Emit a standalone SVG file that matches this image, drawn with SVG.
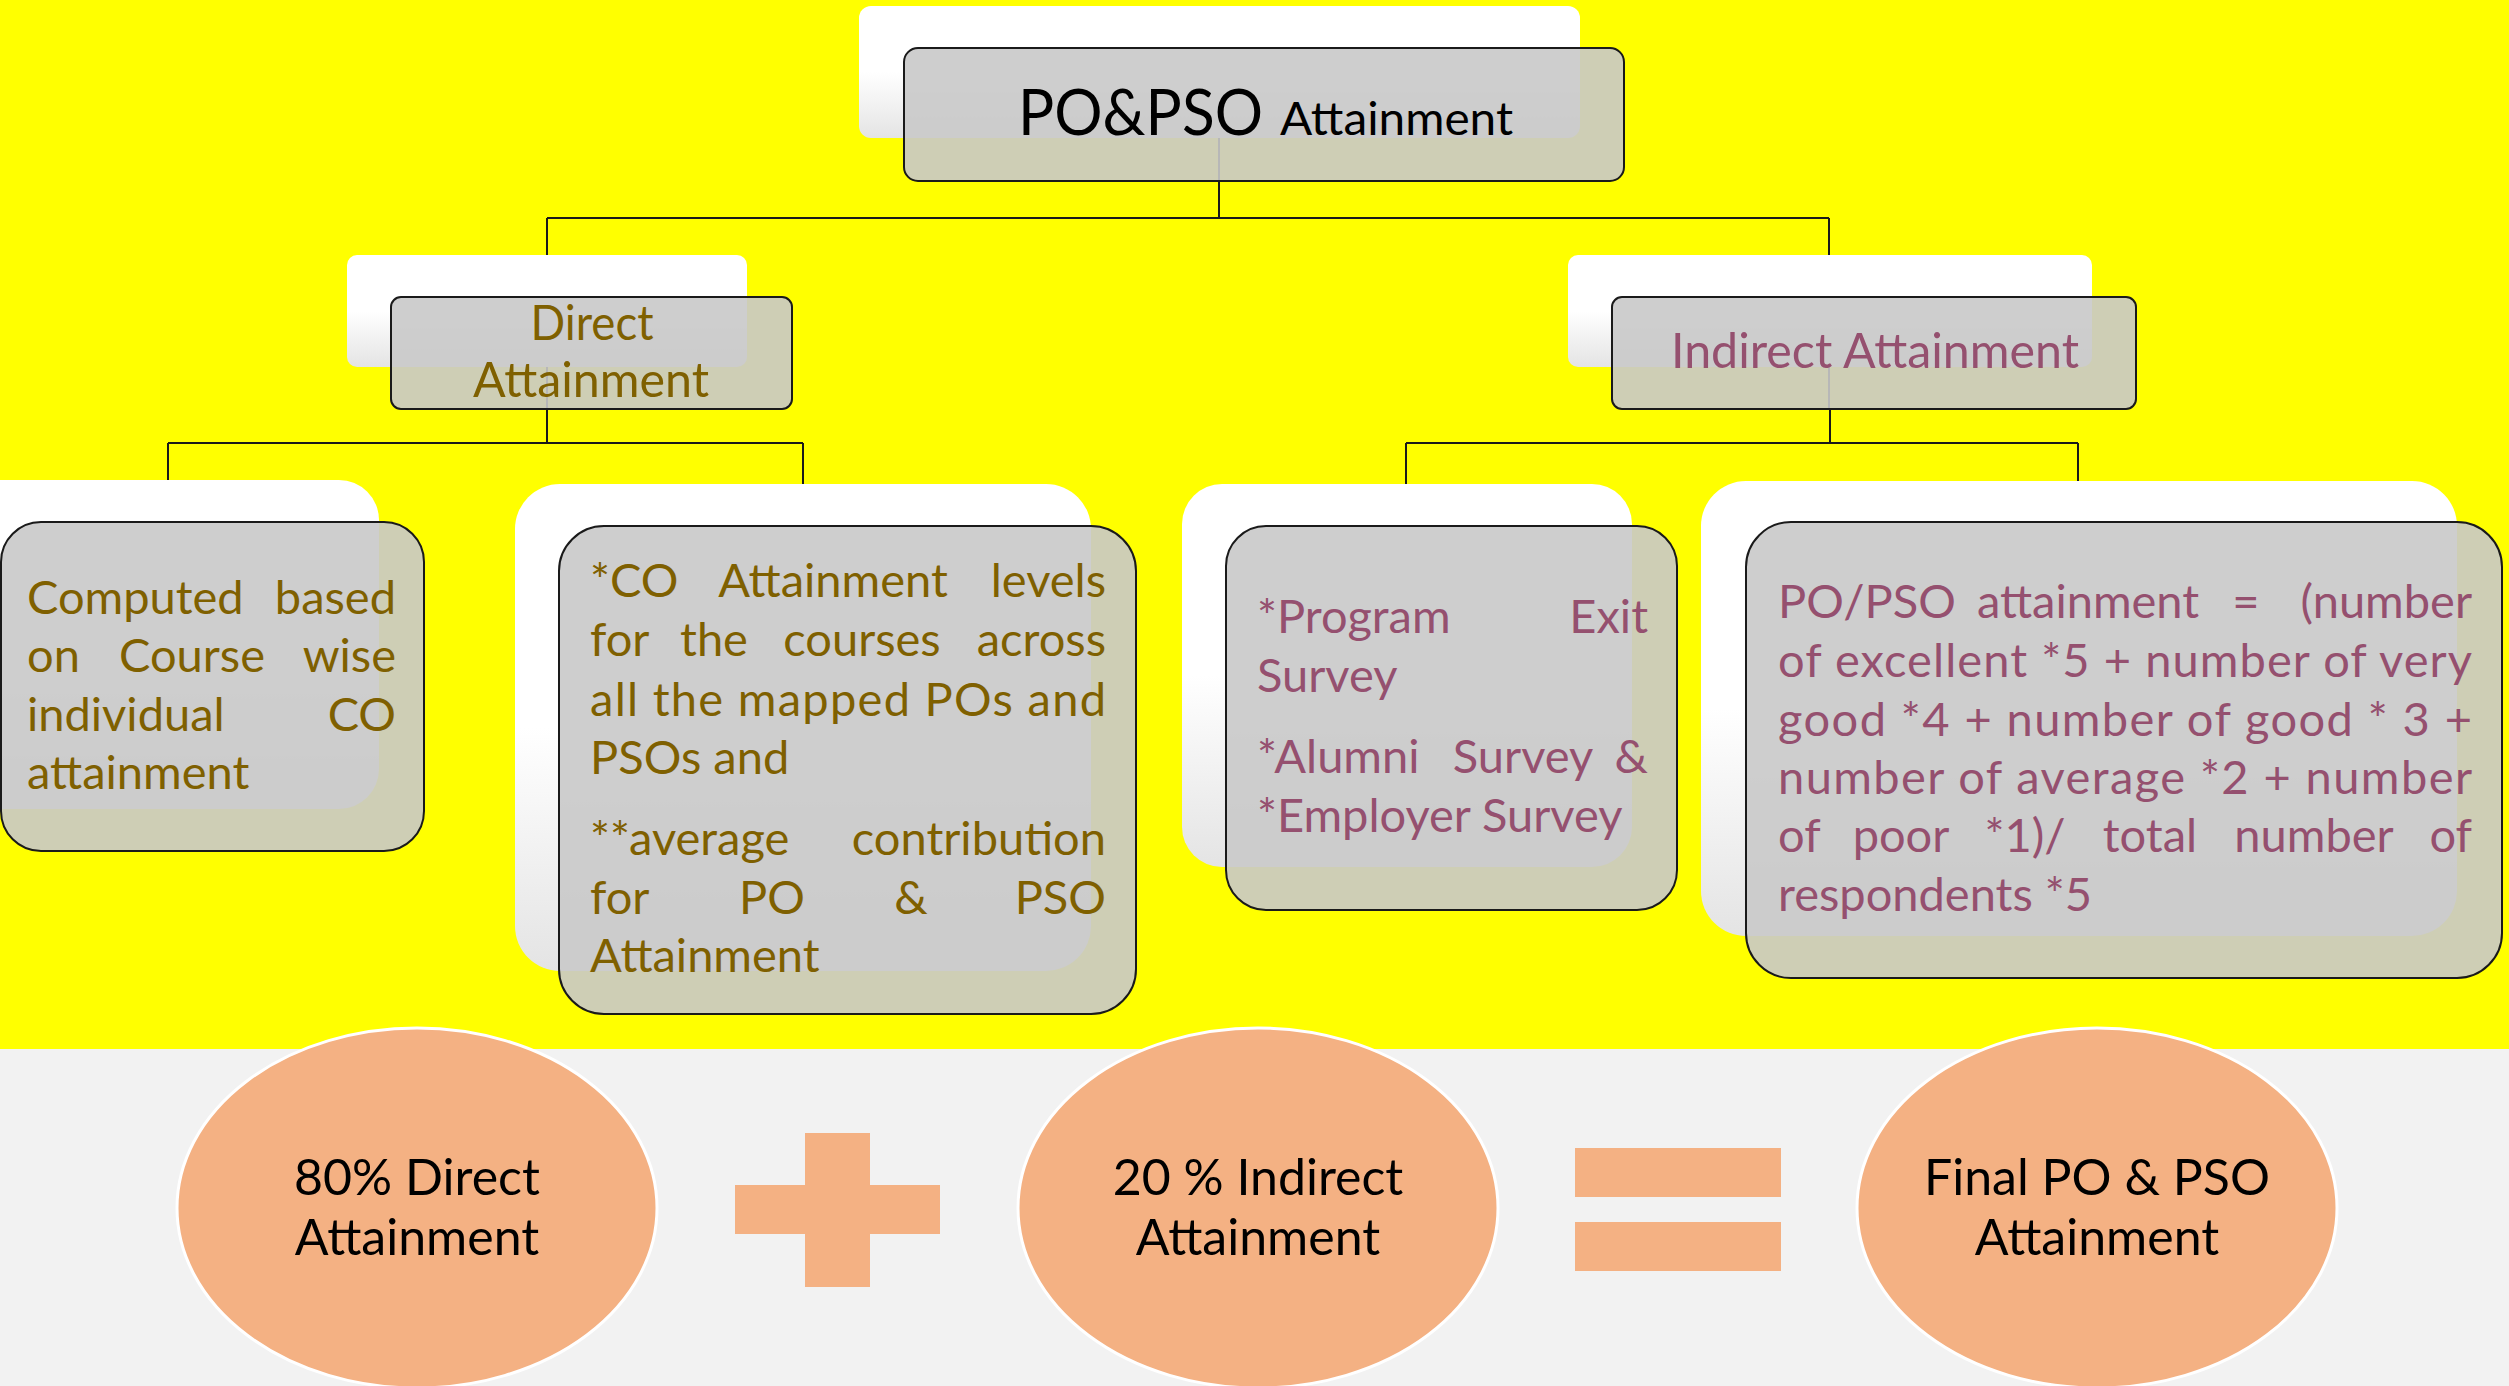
<svg xmlns="http://www.w3.org/2000/svg" width="2509" height="1386" viewBox="0 0 2509 1386">
<defs>
<linearGradient id="backGrad" x1="0" y1="0" x2="0" y2="1">
<stop offset="0" stop-color="#FFFFFF"/>
<stop offset="0.5" stop-color="#FFFFFF"/>
<stop offset="1" stop-color="#E4E4E4"/>
</linearGradient>
</defs>
<style>
.back{fill:url(#backGrad);}
.front{fill:#C9C9C9;fill-opacity:0.9;stroke:#1A1A1A;stroke-width:2;}
.conn{fill:none;stroke:#1A1A1A;stroke-width:2;}
.t{font-family:Lato,"Open Sans","Liberation Sans",sans-serif;}
.brown{fill:#7F6000;font-size:47px;}
.mauve{fill:#95506F;font-size:47px;}
.h2b{fill:#7F6000;font-size:48px;}
.h2m{fill:#95506F;font-size:48px;}
.ell{fill:#F4B183;stroke:#FFFFFF;stroke-width:3;}
.op{fill:#F4B183;}
.etxt{fill:#000000;font-size:50px;text-anchor:middle;}
</style>
<rect x="0" y="0" width="2509" height="1049" fill="#FFFF00"/>
<rect x="0" y="1049" width="2509" height="337" fill="#F2F2F2"/>

<g id="connectors">
<path class="conn" d="M1219 110 V218 M547 218 H1829 M547 218 V409 M1829 218 V409"/>
<path class="conn" d="M547 409 V443 M168 443 H803 M168 443 V522 M803 443 V526"/>
<path class="conn" d="M1830 409 V443 M1406 443 H2078 M1406 443 V526 M2078 443 V522"/>
</g>

<g id="node-top">
<rect class="back" x="859" y="6" width="721" height="132" rx="12"/>
<rect class="front" x="904" y="48" width="720" height="133" rx="14"/>
<text class="t" x="1018" y="135" font-size="64" fill="#000" textLength="245" lengthAdjust="spacingAndGlyphs">PO&amp;PSO</text>
<text class="t" x="1280" y="135" font-size="46" fill="#000" textLength="233" lengthAdjust="spacingAndGlyphs">Attainment</text>
</g>

<g id="node-direct">
<rect class="back" x="347" y="255" width="400" height="112" rx="10"/>
<rect class="front" x="391" y="297" width="401" height="112" rx="10"/>
<text class="t h2b" x="592" y="340" text-anchor="middle" textLength="123" lengthAdjust="spacingAndGlyphs">Direct</text>
<text class="t h2b" x="591" y="397" text-anchor="middle" textLength="236" lengthAdjust="spacingAndGlyphs">Attainment</text>
</g>

<g id="node-indirect">
<rect class="back" x="1568" y="255" width="524" height="112" rx="10"/>
<rect class="front" x="1612" y="297" width="524" height="112" rx="10"/>
<text class="t h2m" x="1875" y="368" text-anchor="middle" textLength="408" lengthAdjust="spacingAndGlyphs">Indirect Attainment</text>
</g>

<g id="node-computed">
<rect class="back" x="-40" y="480" width="419" height="329" rx="40"/>
<rect class="front" x="1" y="522" width="423" height="329" rx="40"/>
<g class="t brown">
<text x="27" y="614">Computed</text><text x="396" y="614" text-anchor="end">based</text>
<text x="27" y="672">on</text><text x="192" y="672" text-anchor="middle">Course</text><text x="396" y="672" text-anchor="end">wise</text>
<text x="27" y="731">individual</text><text x="396" y="731" text-anchor="end">CO</text>
<text x="27" y="789">attainment</text>
</g>
</g>

<g id="node-co">
<rect class="back" x="515" y="484" width="576" height="487" rx="45"/>
<rect class="front" x="559" y="526" width="577" height="488" rx="45"/>
<g class="t brown">
<text x="590" y="597">*CO</text><text x="833" y="597" text-anchor="middle">Attainment</text><text x="1106" y="597" text-anchor="end">levels</text>
<text x="590" y="656">for</text><text x="714" y="656" text-anchor="middle">the</text><text x="862" y="656" text-anchor="middle">courses</text><text x="1106" y="656" text-anchor="end">across</text>
<text x="590" y="716" textLength="516" lengthAdjust="spacing">all the mapped POs and</text>
<text x="590" y="774">PSOs and</text>
<text x="590" y="855">**average</text><text x="1106" y="855" text-anchor="end">contribution</text>
<text x="590" y="914">for</text><text x="772" y="914" text-anchor="middle">PO</text><text x="911" y="914" text-anchor="middle">&amp;</text><text x="1106" y="914" text-anchor="end">PSO</text>
<text x="590" y="972">Attainment</text>
</g>
</g>

<g id="node-survey">
<rect class="back" x="1182" y="484" width="450" height="383" rx="40"/>
<rect class="front" x="1226" y="526" width="451" height="384" rx="40"/>
<g class="t mauve">
<text x="1257" y="633">*Program</text><text x="1648" y="633" text-anchor="end">Exit</text>
<text x="1257" y="692">Survey</text>
<text x="1257" y="773">*Alumni</text><text x="1523" y="773" text-anchor="middle">Survey</text><text x="1648" y="773" text-anchor="end">&amp;</text>
<text x="1257" y="832">*Employer Survey</text>
</g>
</g>

<g id="node-formula">
<rect class="back" x="1701" y="481" width="756" height="455" rx="45"/>
<rect class="front" x="1746" y="522" width="756" height="456" rx="45"/>
<g class="t mauve">
<text x="1778" y="618">PO/PSO</text><text x="2088" y="618" text-anchor="middle">attainment</text><text x="2246" y="618" text-anchor="middle">=</text><text x="2472" y="618" text-anchor="end">(number</text>
<text x="1778" y="677" textLength="694" lengthAdjust="spacing">of excellent *5 + number of very</text>
<text x="1778" y="736" textLength="694" lengthAdjust="spacing">good *4 + number of good * 3 +</text>
<text x="1778" y="794" textLength="694" lengthAdjust="spacing">number of average *2 + number</text>
<text x="1778" y="852">of</text><text x="1901" y="852" text-anchor="middle">poor</text><text x="2025" y="852" text-anchor="middle">*1)/</text><text x="2150" y="852" text-anchor="middle">total</text><text x="2314" y="852" text-anchor="middle">number</text><text x="2472" y="852" text-anchor="end">of</text>
<text x="1778" y="911">respondents *5</text>
</g>
</g>

<g id="node-direct80">
<ellipse class="ell" cx="417" cy="1208" rx="240" ry="180"/>
<text class="t etxt" x="417" y="1195">80% Direct</text>
<text class="t etxt" x="417" y="1255">Attainment</text>
</g>

<g id="plus">
<rect class="op" x="805" y="1133" width="65" height="154"/>
<rect class="op" x="735" y="1185" width="205" height="49"/>
</g>

<g id="node-indirect20">
<ellipse class="ell" cx="1258" cy="1208" rx="240" ry="180"/>
<text class="t etxt" x="1258" y="1195">20 % Indirect</text>
<text class="t etxt" x="1258" y="1255">Attainment</text>
</g>

<g id="equals">
<rect class="op" x="1575" y="1148" width="206" height="49"/>
<rect class="op" x="1575" y="1222" width="206" height="49"/>
</g>

<g id="node-final">
<ellipse class="ell" cx="2097" cy="1208" rx="240" ry="180"/>
<text class="t etxt" x="2097" y="1195">Final PO &amp; PSO</text>
<text class="t etxt" x="2097" y="1255">Attainment</text>
</g>
</svg>
